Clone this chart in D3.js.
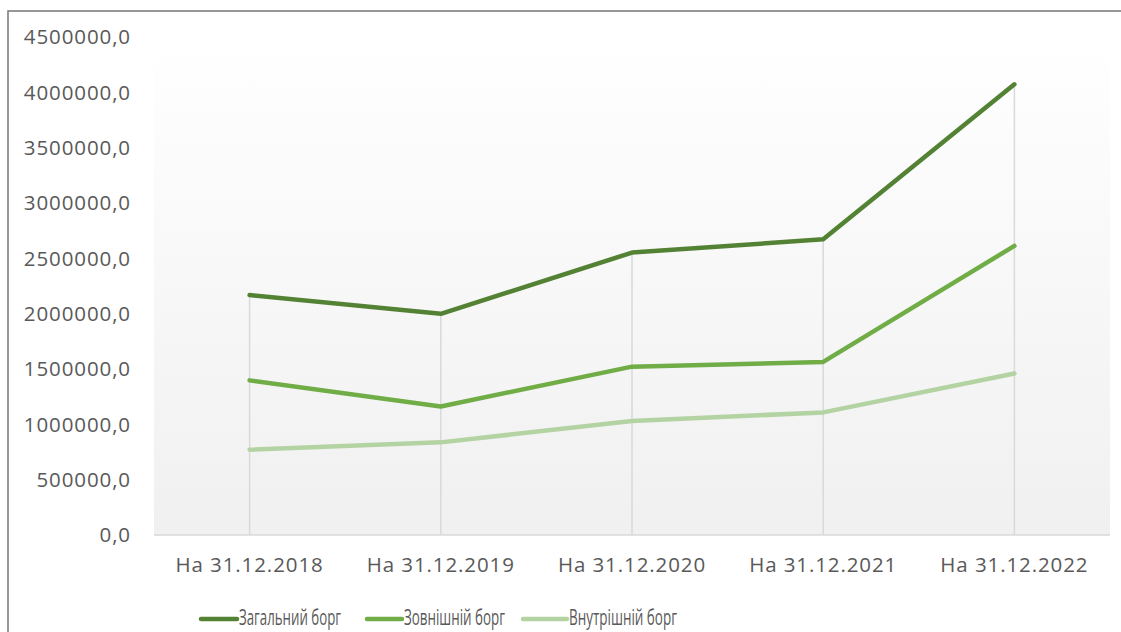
<!DOCTYPE html>
<html>
<head>
<meta charset="utf-8">
<script src="https://cdn.jsdelivr.net/npm/d3@7"></script>
<style>
  body { margin: 0; background: #fff; }
  svg { display: block; }
  .tickTxt { font-family: "Open Sans", sans-serif; font-size: 20.5px; letter-spacing: 0.9px; fill: #595959; }
  .legTxt { font-family: "Open Sans", sans-serif; font-size: 22px; fill: #595959; }
</style>
</head>
<body>
<div id="chart"></div>
<script>
var categories = ["На 31.12.2018", "На 31.12.2019", "На 31.12.2020", "На 31.12.2021", "На 31.12.2022"];
var seriesNames = ["Загальний борг", "Зовнішній борг", "Внутрішній борг"];
var totalDebt = [2168400, 1998300, 2551900, 2671800, 4072000];
var externalDebt = [1397200, 1161300, 1521400, 1563800, 2612700];
var internalDebt = [771200, 837000, 1030500, 1108000, 1459300];
var yTicks = [0, 500000, 1000000, 1500000, 2000000, 2500000, 3000000, 3500000, 4000000, 4500000];
var seriesColors = ["#548235", "#70ad47", "#b4d3a3"];

(function () {
  'use strict'

  var W = 1121, H = 632;
  var margin = {top: 37, left: 154, right: 11, bottom: 97};
  var width = W - margin.left - margin.right,
      height = H - margin.top - margin.bottom;

  var svg = d3.select("#chart").append("svg")
      .attr("width", W)
      .attr("height", H);

  // outer frame
  svg.append("rect")
    .attr("x", 8).attr("y", 11)
    .attr("width", W + 20).attr("height", H + 20)
    .attr("fill", "none")
    .attr("stroke", "#767676")
    .attr("stroke-width", 1.5);

  var defs = svg.append("defs");
  var grad = defs.append("linearGradient")
    .attr("id", "plotGrad")
    .attr("x1", 0).attr("y1", 0).attr("x2", 0).attr("y2", 1);
  grad.append("stop").attr("offset", "0%").attr("stop-color", "#ffffff");
  grad.append("stop").attr("offset", "100%").attr("stop-color", "#f0f0f0");

  var g = svg.append("g")
    .attr("transform", "translate(" + margin.left + "," + margin.top + ")");

  var x = d3.scaleBand().domain(categories).range([0, width]);
  var y = d3.scaleLinear().domain([0, 4500000]).range([height, 0]);

  g.append("rect")
    .attr("width", width).attr("height", height)
    .attr("fill", "url(#plotGrad)");

  var data = [totalDebt, externalDebt, internalDebt];

  // drop lines from highest point to axis
  g.append("g").selectAll("line")
    .data(categories)
    .enter().append("line")
    .attr("x1", function(d) { return x(d) + x.bandwidth() / 2; })
    .attr("x2", function(d) { return x(d) + x.bandwidth() / 2; })
    .attr("y1", function(d, i) { return y(d3.max(data, function(s) { return s[i]; })); })
    .attr("y2", height)
    .attr("stroke", "#d9d9d9")
    .attr("stroke-width", 1.5);

  // x axis line
  g.append("line")
    .attr("x1", 0).attr("x2", width)
    .attr("y1", height).attr("y2", height)
    .attr("stroke", "#d9d9d9")
    .attr("stroke-width", 1.5);

  // y tick labels
  g.append("g").selectAll("text")
    .data(yTicks)
    .enter().append("text")
    .attr("class", "tickTxt")
    .attr("x", -23)
    .attr("y", function(d) { return y(d); })
    .attr("dy", "0.35em")
    .attr("text-anchor", "end")
    .text(function(d) { return d3.format(".1f")(d).replace(".", ","); });

  // x labels
  g.append("g").selectAll("text")
    .data(categories)
    .enter().append("text")
    .attr("class", "tickTxt")
    .attr("x", function(d) { return x(d) + x.bandwidth() / 2; })
    .attr("y", height + 30)
    .attr("dy", "0.35em")
    .attr("text-anchor", "middle")
    .text(function(d) { return d; });

  var line = d3.line()
    .x(function(d, i) { return x(categories[i]) + x.bandwidth() / 2; })
    .y(function(d) { return y(d); });

  // draw lighter series first
  for (var s = data.length - 1; s >= 0; s--) {
    g.append("path")
      .datum(data[s])
      .attr("d", line)
      .attr("fill", "none")
      .attr("stroke", seriesColors[s])
      .attr("stroke-width", 4.5)
      .attr("stroke-linecap", "round")
      .attr("stroke-linejoin", "round");
  }

  // legend
  var legX = [201, 367, 523];
  var legLen = [36, 35, 44];
  var legTxtW = [102, 101, 108];
  var legY = 619;
  var leg = svg.append("g").selectAll("g")
    .data(seriesNames)
    .enter().append("g")
    .attr("transform", function(d, i) { return "translate(" + legX[i] + "," + legY + ")"; });
  leg.append("line")
    .attr("x1", 0).attr("x2", function(d, i) { return legLen[i]; })
    .attr("y1", 0).attr("y2", 0)
    .attr("stroke", function(d, i) { return seriesColors[i]; })
    .attr("stroke-width", 4.5)
    .attr("stroke-linecap", "round");
  leg.append("text")
    .attr("class", "legTxt")
    .attr("x", function(d, i) { return legLen[i] + 2; })
    .attr("y", -2)
    .attr("dy", "0.35em")
    .attr("textLength", function(d, i) { return legTxtW[i]; })
    .attr("lengthAdjust", "spacingAndGlyphs")
    .text(function(d) { return d; });
})()
</script>
</body>
</html>
